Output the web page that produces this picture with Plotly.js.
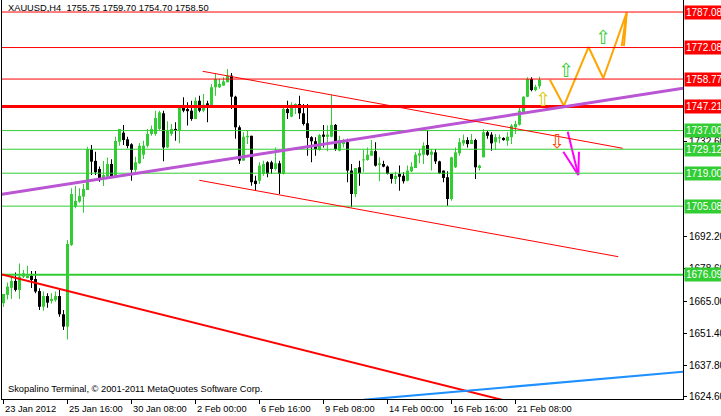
<!DOCTYPE html>
<html>
<head>
<meta charset="utf-8">
<script src="https://cdn.plot.ly/plotly-3.0.1.min.js"></script>
<style>html,body{margin:0;padding:0;background:#fff;}#chart{width:721px;height:416px;}</style>
</head>
<body>
<div id="chart"></div>
<script>
// ---- Data (XAUUSD H4, bar index 0 = 23 Jan 2012 00:00) ----
const barOpen = [1664.1,1667.6,1670.6,1673.5,1669.7,1675.3,1674.7,1675.7,1674.3,1669.2,1662.6,1667.1,1665.0,1665.4,1667.1,1659.4,1654.2,1688.7,1704.9,1707.0,1709.1,1711.9,1729.1,1724.2,1720.8,1716.9,1717.5,1722.9,1717.8,1732.3,1736.1,1733.3,1731.2,1720.4,1723.2,1726.8,1730.6,1735.6,1735.6,1737.7,1744.3,1729.9,1735.6,1737.7,1737.0,1747.5,1746.1,1745.4,1741.9,1749.6,1745.4,1748.5,1747.5,1755.3,1755.3,1756.0,1757.4,1760.2,1751.3,1738.4,1724.3,1734.2,1734.8,1715.8,1715.8,1718.7,1723.6,1723.6,1720.8,1723.2,1718.7,1746.1,1742.9,1746.8,1748.2,1744.3,1740.1,1734.2,1732.5,1728.8,1735.3,1734.4,1734.4,1739.4,1728.5,1731.3,1732.1,1720.1,1710.2,1721.5,1724.4,1724.6,1726.4,1728.3,1722.5,1722.9,1721.8,1718.7,1716.6,1718.7,1717.9,1715.8,1719.8,1721.2,1726.4,1726.8,1730.9,1726.8,1727.8,1724.0,1720.1,1717.3,1708.1,1721.5,1727.4,1731.6,1733.0,1731.3,1733.0,1721.2,1725.7,1736.3,1735.3,1732.1,1733.7,1733.9,1732.7,1734.2,1738.4,1739.5,1744.7,1751.3,1758.8,1754.1,1755.75];
const barHigh = [1668.0,1672.8,1675.3,1677.1,1680.9,1678.1,1679.9,1677.7,1677.7,1670.4,1669.0,1668.3,1668.3,1669.0,1669.7,1661.2,1690.8,1712.6,1713.6,1712.6,1714.4,1730.2,1730.9,1728.1,1721.8,1724.2,1725.6,1724.9,1734.4,1737.7,1739.4,1734.4,1731.6,1726.0,1731.8,1732.7,1737.7,1739.1,1745.4,1745.4,1745.4,1740.9,1739.8,1740.5,1747.5,1751.1,1749.0,1749.6,1751.1,1751.7,1752.5,1749.6,1756.7,1760.9,1758.8,1759.5,1763.0,1761.3,1751.7,1739.1,1736.3,1737.0,1734.8,1717.9,1723.6,1724.3,1724.0,1724.3,1729.9,1724.3,1746.6,1749.6,1749.0,1748.5,1751.7,1748.2,1748.2,1734.6,1734.2,1735.6,1739.4,1739.1,1752.2,1739.8,1734.8,1733.5,1733.5,1722.9,1721.2,1724.3,1728.8,1729.9,1733.0,1732.1,1725.7,1724.3,1722.2,1718.7,1719.6,1722.2,1719.4,1722.2,1723.6,1727.8,1729.2,1732.1,1737.3,1729.2,1729.2,1724.3,1720.1,1719.8,1726.0,1729.9,1733.9,1735.3,1734.2,1735.6,1733.5,1722.6,1737.7,1737.0,1736.3,1735.6,1735.3,1734.2,1736.3,1739.8,1741.2,1747.1,1751.5,1759.5,1759.5,1756.4,1759.70];
const barLow = [1662.5,1665.7,1665.9,1669.0,1665.9,1674.7,1674.6,1670.5,1668.3,1661.2,1660.9,1662.2,1664.0,1664.7,1658.4,1652.8,1648.8,1688.3,1704.2,1706.5,1702.3,1711.9,1718.2,1718.2,1715.4,1713.6,1717.5,1717.5,1717.8,1730.6,1730.9,1729.5,1715.8,1718.2,1722.9,1725.0,1729.9,1734.8,1734.8,1737.0,1724.0,1729.6,1734.8,1732.7,1731.6,1744.7,1739.1,1741.2,1741.9,1744.7,1744.7,1740.5,1747.5,1751.7,1755.0,1756.0,1757.4,1746.1,1733.5,1722.9,1724.3,1731.3,1713.7,1711.6,1714.4,1717.9,1717.3,1718.7,1720.1,1710.2,1718.5,1741.9,1742.6,1744.0,1741.9,1739.1,1726.4,1723.6,1726.4,1728.5,1729.9,1728.3,1734.2,1728.5,1728.3,1729.9,1715.2,1704.6,1708.8,1713.7,1719.4,1724.3,1726.4,1721.8,1715.6,1721.5,1718.4,1714.7,1714.4,1711.6,1714.7,1715.6,1719.4,1721.2,1723.2,1722.9,1726.4,1720.1,1722.9,1718.7,1715.2,1705.3,1707.4,1721.2,1726.4,1730.6,1729.9,1731.3,1716.6,1720.1,1725.7,1733.5,1728.5,1728.8,1731.6,1732.7,1730.6,1731.3,1735.6,1739.1,1744.0,1751.1,1753.6,1753.6,1754.70];
const barClose = [1668.0,1671.1,1673.5,1669.7,1675.3,1676.7,1675.7,1673.9,1669.0,1662.6,1667.1,1664.3,1665.9,1667.1,1659.4,1654.2,1689.1,1710.2,1707.3,1709.4,1712.3,1729.2,1723.9,1719.4,1716.9,1718.2,1722.9,1717.5,1732.6,1737.7,1733.0,1730.5,1720.4,1723.6,1730.6,1730.6,1735.6,1737.7,1742.3,1744.7,1729.9,1737.0,1737.7,1737.0,1747.5,1745.4,1745.2,1741.9,1749.6,1745.4,1747.9,1747.1,1755.3,1758.8,1756.7,1757.8,1760.2,1751.3,1738.4,1724.3,1734.4,1734.8,1715.2,1714.4,1722.2,1722.9,1718.7,1720.8,1723.2,1718.7,1746.1,1744.4,1747.9,1748.2,1744.3,1739.8,1733.9,1732.5,1729.2,1735.1,1734.4,1735.3,1739.4,1729.2,1733.0,1732.2,1720.1,1710.2,1721.2,1719.0,1724.6,1726.8,1728.5,1722.2,1723.2,1721.8,1718.7,1716.6,1717.9,1717.5,1715.6,1720.1,1721.8,1726.8,1727.4,1730.6,1726.8,1728.1,1724.0,1719.0,1717.0,1708.1,1725.7,1727.8,1732.1,1733.0,1731.3,1733.0,1721.5,1722.2,1736.3,1734.8,1731.6,1734.2,1734.2,1733.0,1734.4,1739.1,1739.8,1745.4,1751.3,1758.8,1754.1,1755.5,1758.50];

const xTickIdx = [0,16,32,48,64,80,96,112,128];
const xTickText = ['23 Jan 2012','25 Jan 16:00','30 Jan 08:00','2 Feb 00:00','6 Feb 16:00','9 Feb 08:00','14 Feb 00:00','16 Feb 16:00','21 Feb 08:00'];
const yTickVals = [1624.60,1637.80,1651.40,1665.00,1678.60,1692.20,1732.60];

// horizontal levels
const resistLevels = [1787.08,1772.08,1758.77,1747.21];
const supportLevels = [1737.00,1729.12,1719.00,1705.08,1676.09];

// trend lines: endpoints (bar index, price)
const trendX0 = [-0.375, 90, -0.375, 49.8, 48.95];
const trendY0 = [1676.17, 1623.26, 1710.13, 1762.04, 1716.0];
const trendX1 = [130, 169.9, 169.875, 154.8, 153.7];
const trendY1 = [1621.0, 1635.15, 1754.86, 1729.52, 1683.73];

// projection zigzag (orange) with arrow head, and down arrow (magenta)
const zigX = [136.6, 140.1, 146.25, 149.95, 155.8, 154.55, null, 155.8, 155.1];
const zigY = [1758.5, 1747.4, 1772.3, 1759.1, 1786.8, 1772.7, null, 1786.8, 1772.7];
const downX = [141.05, 143.7, null, 139.95, 143.7, 143.875];
const downY = [1736.53, 1718.24, null, 1728.08, 1718.24, 1728.08];

// arrow markers
const upMarkX = [134.9, 140.6, 149.9];
const upMarkY = [1750.3, 1762.6, 1776.5];
const dnMarkX = [138.4];
const dnMarkY = [1732.6];

const titleText = 'XAUUSD,H4  1755.75 1759.70 1754.70 1758.50';
const footerText = 'Skopalino Terminal, \u00a9 2001-2011 MetaQuotes Software Corp.';

// ---- Build ----
const GREEN = '#32CD32', BLACK = '#000000', RED = '#FF0000';
const FONT = 'Liberation Sans, Arial, sans-serif';
const FS = 9.3;
const idx = barOpen.map((_, i) => i);
const colors = idx.map(i => barClose[i] >= barOpen[i] ? GREEN : BLACK);

const wicks = {
  type: 'bar', x: idx, base: barLow, y: idx.map(i => barHigh[i] - barLow[i]),
  width: 0.25, marker: {color: colors, line: {width: 0}}, hoverinfo: 'skip'
};
const bodies = {
  type: 'bar', x: idx, base: idx.map(i => Math.min(barOpen[i], barClose[i])),
  y: idx.map(i => Math.max(Math.abs(barClose[i] - barOpen[i]), 0.45)),
  width: 0.75, marker: {color: colors, line: {width: 0}}, hoverinfo: 'skip'
};
const zig = {type: 'scatter', mode: 'lines', x: zigX, y: zigY, line: {color: '#FFA500', width: 2}, hoverinfo: 'skip'};
const down = {type: 'scatter', mode: 'lines', x: downX, y: downY, line: {color: '#FF00FF', width: 2}, hoverinfo: 'skip'};

const shapes = [];
const annotations = [];
resistLevels.forEach((v) => {
  shapes.push({type: 'line', xref: 'paper', x0: 0, x1: 1, yref: 'y', y0: v, y1: v,
    line: {color: RED, width: v === 1747.21 ? 3 : 1}});
});
supportLevels.forEach((v) => {
  shapes.push({type: 'line', xref: 'paper', x0: 0, x1: 1, yref: 'y', y0: v, y1: v,
    line: {color: GREEN, width: v === 1676.09 ? 2 : 1}});
});
const trendStyle = [[RED, 2], ['#1E90FF', 2], ['#BA55D3', 3], [RED, 1], [RED, 1]];
trendX0.forEach((_, k) => {
  shapes.push({type: 'line', xref: 'x', yref: 'y', x0: trendX0[k], y0: trendY0[k], x1: trendX1[k], y1: trendY1[k],
    line: {color: trendStyle[k][0], width: trendStyle[k][1]}});
});

resistLevels.concat(supportLevels).forEach((v, k) => {
  annotations.push({xref: 'paper', x: 1, xanchor: 'left', xshift: 1, yref: 'y', y: v, yanchor: 'middle',
    text: v.toFixed(2), showarrow: false, bgcolor: k < resistLevels.length ? RED : GREEN,
    font: {family: FONT, size: 10, color: '#FFFFFF'}, borderpad: 1});
});
xTickIdx.forEach((x, k) => {
  annotations.push({xref: 'x', yref: 'paper', x: x, y: 0, xanchor: 'left', yanchor: 'top', xshift: -1, yshift: -3,
    text: xTickText[k], showarrow: false, font: {family: FONT, size: FS, color: '#000'}});
});
upMarkX.forEach((x, k) => {
  annotations.push({xref: 'x', yref: 'y', x: x, y: upMarkY[k], text: '\u21E7', showarrow: false,
    font: {family: 'DejaVu Sans', size: 19, color: k === 0 ? '#D8C800' : '#32CD32'}});
});
dnMarkX.forEach((x, k) => {
  annotations.push({xref: 'x', yref: 'y', x: x, y: dnMarkY[k], text: '\u21E9', showarrow: false,
    font: {family: 'DejaVu Sans', size: 19, color: '#FF4500'}});
});
annotations.push({xref: 'paper', yref: 'paper', x: 0, y: 1, xanchor: 'left', yanchor: 'top', xshift: 4, yshift: -1,
  text: titleText, showarrow: false, font: {family: FONT, size: FS, color: '#000'}});
annotations.push({xref: 'paper', yref: 'paper', x: 0, y: 0, xanchor: 'left', yanchor: 'bottom', xshift: 4, yshift: 3,
  text: footerText, showarrow: false, font: {family: FONT, size: FS, color: '#000'}});

const layout = {
  width: 721, height: 416,
  margin: {l: 2, r: 38, t: 0, b: 17, pad: 0},
  paper_bgcolor: '#FFFFFF', plot_bgcolor: '#FFFFFF',
  showlegend: false, barmode: 'overlay',
  font: {family: FONT, size: 10, color: '#000'},
  xaxis: {range: [-0.375, 169.875], showgrid: false, zeroline: false, showline: true, linecolor: '#000', linewidth: 1,
    ticks: 'outside', ticklen: 4, tickcolor: '#000', tickvals: xTickIdx, showticklabels: false,
    automargin: false, fixedrange: true},
  yaxis: {range: [1623.62, 1792.16], side: 'right', showgrid: false, zeroline: false, showline: true, mirror: true,
    linecolor: '#000', linewidth: 1, ticks: 'outside', ticklen: 3, tickcolor: '#000',
    tickvals: yTickVals, ticktext: yTickVals.map(v => v.toFixed(2)),
    tickfont: {family: FONT, size: 10, color: '#000'}, automargin: false, fixedrange: true},
  shapes: shapes,
  annotations: annotations
};

Plotly.newPlot('chart', [wicks, bodies, zig, down], layout, {staticPlot: true, displayModeBar: false});
</script>
</body>
</html>
